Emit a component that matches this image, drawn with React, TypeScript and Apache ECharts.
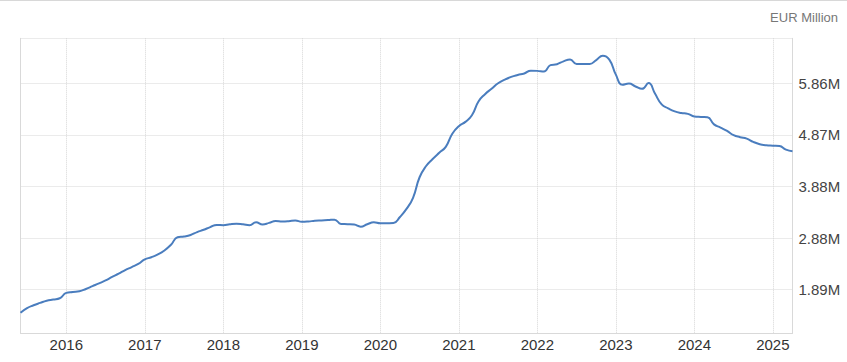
import React, { useEffect, useRef } from "react";
import * as echarts from "echarts";

// EUR Million, monthly, Jun 2015 – Apr 2025
const startYear = 2015;
const startMonth = 6;
const values2015 = [1436000, 1525000, 1581000, 1627000, 1670000, 1693000, 1716000];
const values2016 = [1820000, 1838000, 1851000, 1896000, 1950000, 2004000, 2060000, 2128000, 2191000, 2261000, 2319000, 2379000];
const values2017 = [2467000, 2508000, 2562000, 2639000, 2749000, 2894000, 2910000, 2939000, 2994000, 3039000, 3091000, 3132000];
const values2018 = [3126000, 3145000, 3155000, 3145000, 3128000, 3184000, 3141000, 3172000, 3209000, 3199000, 3205000, 3220000];
const values2019 = [3193000, 3199000, 3213000, 3220000, 3226000, 3234000, 3151000, 3147000, 3139000, 3099000, 3145000, 3182000];
const values2020 = [3164000, 3166000, 3170000, 3286000, 3442000, 3657000, 4053000, 4271000, 4406000, 4526000, 4640000, 4894000];
const values2021 = [5039000, 5122000, 5250000, 5516000, 5657000, 5763000, 5868000, 5937000, 5991000, 6028000, 6057000, 6111000];
const values2022 = [6107000, 6094000, 6217000, 6236000, 6291000, 6327000, 6240000, 6240000, 6240000, 6316000, 6399000, 6325000];
const values2023 = [6034000, 5839000, 5862000, 5806000, 5760000, 5871000, 5665000, 5460000, 5383000, 5325000, 5294000, 5277000];
const values2024 = [5227000, 5217000, 5211000, 5074000, 5012000, 4947000, 4866000, 4827000, 4798000, 4736000, 4692000, 4670000];
const values2025 = [4663000, 4657000, 4587000, 4555000];

const yTickValues = [1890000, 2880000, 3880000, 4870000, 5860000];
const yMin = 1040000;
const yMax = 6736000;
const unitLabel = "EUR Million";

const values: number[] = [
  ...values2015, ...values2016, ...values2017, ...values2018, ...values2019,
  ...values2020, ...values2021, ...values2022, ...values2023, ...values2024, ...values2025,
];

const months: string[] = values.map((_, i) => {
  const m0 = startMonth - 1 + i;
  const y = startYear + Math.floor(m0 / 12);
  const m = (m0 % 12) + 1;
  return `${y}-${String(m).padStart(2, "0")}`;
});

const isJan = (_i: number, v: string) => v.endsWith("-01");
const FONT = "'Liberation Sans', Arial, sans-serif";

export default function App() {
  const ref = useRef<HTMLDivElement>(null);
  useEffect(() => {
    if (!ref.current) return;
    const chart = echarts.init(ref.current, undefined, { renderer: "svg" });
    chart.setOption({
      animation: false,
      backgroundColor: "#ffffff",
      textStyle: { fontFamily: FONT },
      title: {
        text: unitLabel,
        right: 9,
        top: 11,
        padding: 0,
        textStyle: { fontSize: 13, fontWeight: "normal", color: "#777777", fontFamily: FONT },
      },
      graphic: [
        { type: "rect", left: 0, top: 0, shape: { width: 847, height: 1 }, style: { fill: "#d8d8d8" } },
      ],
      grid: { left: 20.5, right: 54.5, top: 38.3, bottom: 28.7, containLabel: false },
      xAxis: {
        type: "category",
        boundaryGap: false,
        data: months,
        axisLine: { show: true, lineStyle: { color: "#d9d9d9", width: 1 } },
        axisTick: { show: false },
        axisLabel: {
          interval: isJan,
          formatter: (v: string) => v.slice(0, 4),
          color: "#333333",
          fontSize: 15,
          margin: 4,
          fontFamily: FONT,
        },
        splitLine: {
          show: true,
          interval: isJan,
          lineStyle: { type: "dotted", color: "#d6d6d6", width: 1 },
        },
      },
      yAxis: [
        {
          type: "value",
          position: "right",
          min: yMin,
          max: yMax,
          axisLine: { show: true, lineStyle: { color: "#d9d9d9", width: 1 } },
          axisTick: { show: false, customValues: [...yTickValues, yMax] },
          axisLabel: {
            customValues: yTickValues,
            formatter: (v: number) => (v / 1e6).toFixed(2) + "M",
            color: "#444444",
            fontSize: 15,
            margin: 6,
            fontFamily: FONT,
          },
          splitLine: { show: true, lineStyle: { type: "dotted", color: "#d6d6d6", width: 1 } },
        },
        {
          type: "value",
          position: "left",
          min: yMin,
          max: yMax,
          axisLine: { show: true, lineStyle: { color: "#d9d9d9", width: 1 } },
          axisTick: { show: false },
          axisLabel: { show: false },
          splitLine: { show: false },
        },
      ],
      series: [
        {
          type: "line",
          data: values,
          yAxisIndex: 0,
          smooth: 0.5,
          showSymbol: false,
          lineStyle: { color: "#4a7dbe", width: 2 },
          itemStyle: { color: "#4a7dbe" },
        },
      ],
    });
    return () => chart.dispose();
  }, []);
  return (
    <div
      ref={ref}
      style={{ position: "fixed", left: 0, top: 0, width: 847, height: 362 }}
    />
  );
}
